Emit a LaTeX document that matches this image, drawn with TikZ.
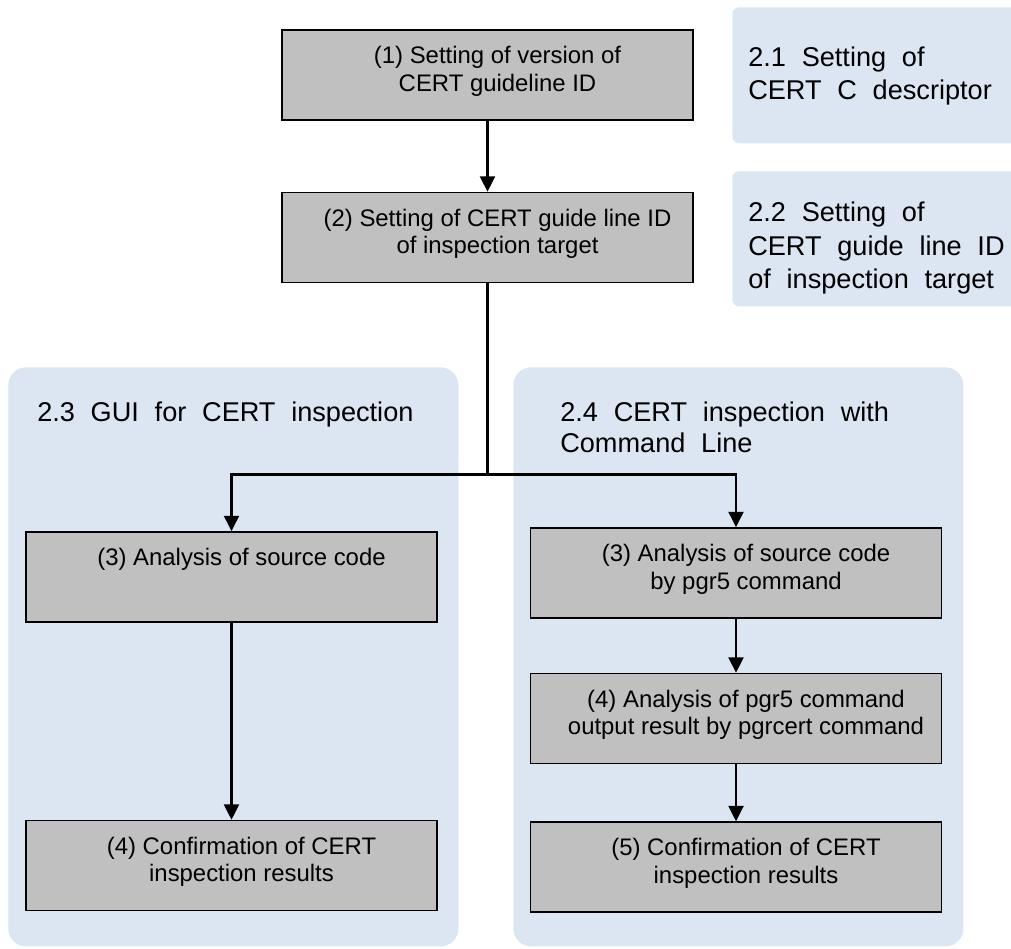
\documentclass[tikz,border=0pt]{standalone}
\usepackage{fontspec}
\setmainfont{Liberation Sans}
\usetikzlibrary{arrows.meta, positioning, calc}
\definecolor{cPanelFill}{RGB}{220, 230, 242}
\definecolor{cStepFill}{RGB}{192, 192, 192}
\definecolor{lineColor}{RGB}{0, 0, 0}
\tikzset{
    % --- 区域 ---
    panel/.style={
        rectangle, fill=cPanelFill,
        inner sep=0pt, anchor=north west
    },
    panelSmall/.style={ panel, rounded corners=0.17cm },
    panelLarge/.style={ panel, rounded corners=0.45cm },
    sectionTitle/.style={
        font={\fontsize{19.3}{23.5}\selectfont\spaceskip=0.58em\relax},
        align=left, inner sep=0pt, anchor=north west
    },
    %
    % --- 步骤框 ---
    stepBox/.style={
        rectangle, draw=black, line width=1.1pt, fill=cStepFill,
        minimum width=10.275cm, minimum height=2.25cm, inner sep=0pt
    },
    boxText/.style={
        anchor=north, inner sep=0pt, align=center,
        font={\fontsize{17}{19.5}\selectfont},
        xshift=0.25cm, yshift=-0.42cm
    },
    %
    % --- 连线 ---
    conn/.style={
        draw=lineColor, line width=2pt,
        -{Triangle[length=11pt, width=10.5pt]}
    }
}
\begin{document}
\begin{tikzpicture}[x=0.025cm, y=-0.025cm]

	\clip (0,0) rectangle (1011,948);

	% =========================================
	% 1. 区域
	% =========================================

	\node [panelSmall, minimum width=7.45cm, minimum height=3.4cm] (p21) at (732,7) {};
	\node [sectionTitle] (t21) at ($(p21.north west) + (16,40)$) {2.1 Setting of\\CERT C descriptor};

	\node [panelSmall, minimum width=7.45cm, minimum height=3.375cm] (p22) at (732,171) {};
	\node [sectionTitle] (t22) at ($(p22.north west) + (16,31)$) {2.2 Setting of\\CERT guide line ID\\of inspection target};

	\node [panelLarge, minimum width=11.25cm, minimum height=14.475cm] (p23) at (8,367) {};
	\node [sectionTitle] (t23) at ($(p23.north west) + (29,35)$) {2.3 GUI for CERT inspection};

	\node [panelLarge, minimum width=11.25cm, minimum height=14.475cm] (p24) at (513,367) {};
	\node [sectionTitle] (t24) at ($(p24.north west) + (47,35)$) {2.4 CERT inspection with\\[-2pt]Command Line};

	% =========================================
	% 2. 步骤
	% =========================================

	% 共通设定
	\node [stepBox, label={[boxText]north:{(1) Setting of version of\\CERT guideline ID}}] (s1) at (487.5,75) {};
	\node [stepBox, below=1.775cm of s1, label={[boxText]north:{(2) Setting of CERT guide line ID\\of inspection target}}] (s2) {};

	% GUI
	\node [stepBox, label={[boxText]north:{(3) Analysis of source code}}] (gui3) at (231.5,577) {};
	\node [stepBox, below=4.925cm of gui3, label={[boxText]north:{(4) Confirmation of CERT\\inspection results}}] (gui4) {};

	% Command Line
	\node [stepBox, label={[boxText]north:{(3) Analysis of source code\\by pgr5 command}}] (cli3) at (736,573) {};
	\node [stepBox, below=1.35cm of cli3, label={[boxText]north:{(4) Analysis of pgr5 command\\output result by pgrcert command}}] (cli4) {};
	\node [stepBox, below=1.425cm of cli4, label={[boxText]north:{(5) Confirmation of CERT\\inspection results}}] (cli5) {};

	% =========================================
	% 3. 连线
	% =========================================

	\draw [conn] (s1) -- (s2);

	\coordinate (fork) at ($(s2.south) + (0,191)$);
	\draw [conn] (s2.south) -- (fork) -| (gui3.north);
	\draw [conn] (fork) -| (cli3.north);

	\draw [conn] (gui3) -- (gui4);

	\draw [conn] (cli3) -- (cli4);
	\draw [conn] (cli4) -- (cli5);

\end{tikzpicture}
\end{document}
